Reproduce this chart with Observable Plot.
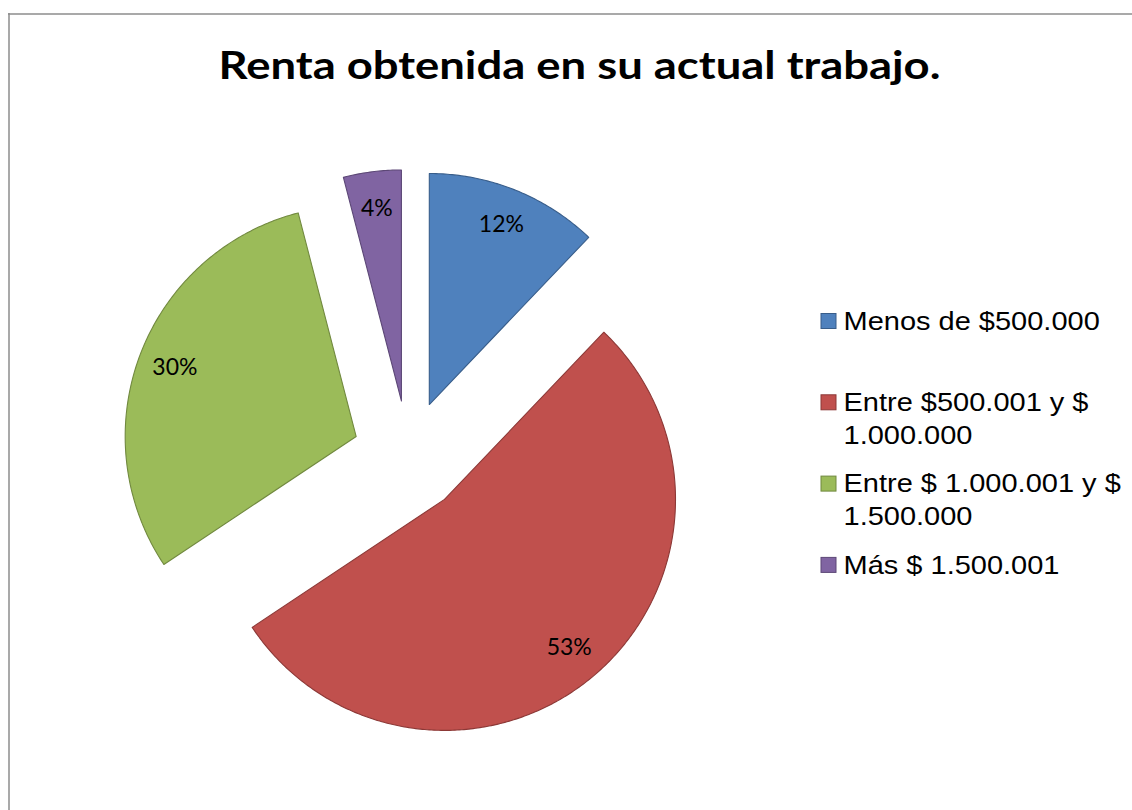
<!DOCTYPE html>
<html><head><meta charset="utf-8">
<script src="https://cdn.jsdelivr.net/npm/d3@7"></script>
<script src="https://cdn.jsdelivr.net/npm/@observablehq/plot@0.6"></script>
<style>html,body{margin:0;padding:0;background:#fff;overflow:hidden}</style>
</head><body><div id="chart"></div>
<script>
const title = "Renta obtenida en su actual trabajo.";
const categories = ["Menos de $500.000", "Entre $500.001 y $ 1.000.000", "Entre $ 1.000.001 y $ 1.500.000", "Más $ 1.500.001"];
const legendLines = [["Menos de $500.000"], ["Entre $500.001 y $", "1.000.000"], ["Entre $ 1.000.001 y $", "1.500.000"], ["Más $ 1.500.001"]];
const values = [12, 53, 30, 4];
const percentLabels = ["12%", "53%", "30%", "4%"];
const fillColors = ["#4F81BD", "#C0504D", "#9BBB59", "#8064A2"];
const edgeColors = ["#385D8A", "#8C3836", "#71893F", "#5C4776"];

// layout (pixels)
const W = 1132, H = 810;
const cx = 408, cy = 456, R = 231, explode = 56, labelR = 0.84;
const legendX = 843, legendY = 321, legendStep = 81.3, lineStep = 33, sq = 15;
const titleWidth = 722, legendStretch = 1.137;

const arcs = d3.pie().sort(null).value(d => d)(values);
const slices = arcs.map((a, i) => {
  const mid = (a.startAngle + a.endAngle) / 2;
  const ax = cx + explode * Math.sin(mid), ay = cy - explode * Math.cos(mid);
  const pts = [{x: ax, y: ay}];
  const n = Math.max(8, Math.ceil((a.endAngle - a.startAngle) / 0.01));
  for (let k = 0; k <= n; k++) {
    const t = a.startAngle + (a.endAngle - a.startAngle) * k / n;
    pts.push({x: ax + R * Math.sin(t), y: ay - R * Math.cos(t)});
  }
  pts.push({x: ax, y: ay});
  return {pts, label: {x: ax + labelR * R * Math.sin(mid), y: ay - labelR * R * Math.cos(mid), text: percentLabels[i]}, i};
});

const legendRows = [];
const legendBoxes = [];
legendLines.forEach((lines, i) => {
  const y0 = legendY + i * legendStep;
  legendBoxes.push({x1: legendX - 22, x2: legendX - 22 + sq, y1: y0 - sq / 2, y2: y0 + sq / 2, i});
  lines.forEach((t, k) => legendRows.push({x: legendX, y: y0 + k * lineStep, text: t}));
});

const plot = Plot.plot({
  width: W, height: H, margin: 0,
  x: {domain: [0, W], range: [0, W], axis: null},
  y: {domain: [0, H], range: [0, H], axis: null},
  style: {background: "#fff", overflow: "visible"},
  marks: [
    Plot.ruleX([8.5], {y1: 13, y2: H, stroke: "#8c8c8c", strokeWidth: 1.5}),
    Plot.ruleY([13.5], {x1: 8, x2: W, stroke: "#8c8c8c", strokeWidth: 1.5}),
    Plot.text([title], {x: 579, y: 66, text: d => d, fontFamily: "Lato", fontWeight: "bold", fontSize: 39, fill: "#000"}),
    ...slices.map(s => Plot.line(s.pts, {x: "x", y: "y", fill: fillColors[s.i], stroke: edgeColors[s.i], strokeWidth: 1.1, curve: "linear"})),
    Plot.text(slices.map(s => s.label), {x: "x", y: "y", text: "text", fontFamily: "Lato", fontSize: 23, fill: "#000"}),
    Plot.rect(legendBoxes, {x1: "x1", x2: "x2", y1: "y1", y2: "y2", fill: d => fillColors[d.i], stroke: d => edgeColors[d.i], strokeWidth: 1}),
    Plot.text(legendRows, {x: "x", y: "y", text: "text", textAnchor: "start", fontFamily: "Liberation Sans", fontSize: 25.5, fill: "#000"})
  ]
});
document.getElementById("chart").append(plot);
const legendSet = new Set(legendRows.map(d => d.text));
plot.querySelectorAll("text").forEach(t => {
  const s = t.textContent;
  if (s === title) {
    t.setAttribute("textLength", titleWidth);
    t.setAttribute("lengthAdjust", "spacingAndGlyphs");
  } else if (legendSet.has(s)) {
    const w = t.getComputedTextLength();
    t.setAttribute("textLength", (w * legendStretch).toFixed(1));
    t.setAttribute("lengthAdjust", "spacingAndGlyphs");
  }
});
</script></body></html>
